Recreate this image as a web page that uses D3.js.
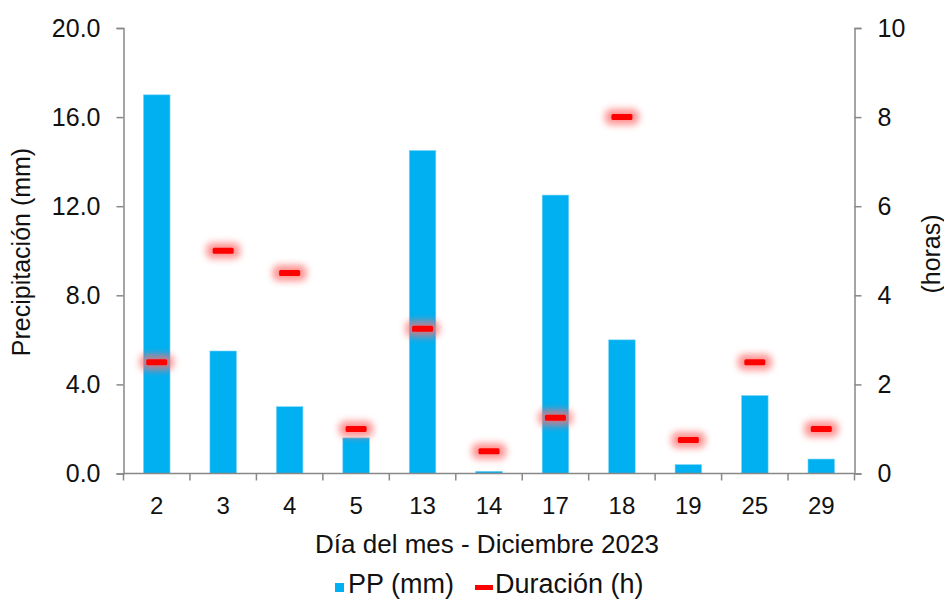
<!DOCTYPE html>
<html><head><meta charset="utf-8">
<script src="https://cdn.jsdelivr.net/npm/d3@7"></script>
<style>
html,body{margin:0;padding:0;background:#fff;}
text{font-family:"Liberation Sans",Arial,sans-serif;fill:#111;}
</style></head>
<body><svg id="c" width="944" height="601"></svg>
<script>
const days = ["2","3","4","5","13","14","17","18","19","25","29"];
const ppValues = [17.0,5.5,3.0,1.6,14.5,0.1,12.5,6.0,0.4,3.5,0.65];
const durValues = [2.5,5.0,4.5,1.0,3.25,0.5,1.25,8.0,0.75,2.5,1.0];
const leftTicks = [0,4,8,12,16,20];
const rightTicks = [0,2,4,6,8,10];

const svg = d3.select("#c");
const m = {l:123.5, r:854.5, t:28, b:473.5};
const x = d3.scaleBand().domain(days).range([m.l, m.r]).paddingInner(0).paddingOuter(0);
const yL = d3.scaleLinear().domain([0,20]).range([m.b, m.t]);
const yR = d3.scaleLinear().domain([0,10]).range([m.b, m.t]);

const defs = svg.append("defs");
const f = defs.append("filter").attr("id","glow").attr("x","-50%").attr("y","-150%").attr("width","200%").attr("height","400%");
f.append("feGaussianBlur").attr("stdDeviation",3.5);

// bars
svg.append("g").selectAll("rect").data(days).join("rect")
  .attr("x", d => x(d) + x.bandwidth()*0.3)
  .attr("width", x.bandwidth()*0.4)
  .attr("y", (d,i) => yL(ppValues[i]))
  .attr("height", (d,i) => yL(0) - yL(ppValues[i]))
  .attr("fill", "#00B0F0")
  .attr("stroke", "#7fd6f7").attr("stroke-width", 0.6);

// duration markers
const mk = svg.append("g");
mk.selectAll("rect.g").data(days).join("rect").attr("class","g")
  .attr("x", d => x(d) + x.bandwidth()/2 - 17)
  .attr("y", (d,i) => yR(durValues[i]) - 8)
  .attr("width", 34).attr("height", 16).attr("rx", 6)
  .attr("fill", "#ff7070").attr("opacity", 0.75).attr("filter","url(#glow)");
mk.selectAll("rect.m").data(days).join("rect").attr("class","m")
  .attr("x", d => x(d) + x.bandwidth()/2 - 10.5)
  .attr("y", (d,i) => yR(durValues[i]) - 3)
  .attr("width", 21).attr("height", 6).attr("rx", 1.5)
  .attr("fill", "#ff0000");

const axisColor = "#888";
function styleAxis(g){
  g.select(".domain").attr("stroke", axisColor).attr("stroke-width", 1.5);
  g.selectAll(".tick line").attr("stroke", axisColor).attr("stroke-width", 1.5);
  g.selectAll(".tick text").attr("font-size", 25).attr("fill","#111").style("font-family","'Liberation Sans',Arial,sans-serif");
}
const gl = svg.append("g").attr("transform", `translate(${m.l},0)`)
  .call(d3.axisLeft(yL).tickValues(leftTicks).tickFormat(d3.format(".1f")).tickSizeOuter(7).tickSize(7).tickPadding(16));
styleAxis(gl);
const gr = svg.append("g").attr("transform", `translate(${m.r},0)`)
  .call(d3.axisRight(yR).tickValues(rightTicks).tickFormat(d3.format("d")).tickSizeOuter(7).tickSize(7).tickPadding(16));
styleAxis(gr);
const gx = svg.append("g").attr("transform", `translate(0,${m.b})`)
  .call(d3.axisBottom(x).tickSize(0).tickPadding(23));
styleAxis(gx);
gx.selectAll(".tick text").attr("font-size", 24);
gx.select(".domain").attr("d", `M${m.l},0H${m.r}`);
// boundary ticks
const bounds = days.map(d => x(d)).concat([m.r]);
gx.selectAll("line.b").data(bounds).join("line").attr("class","b")
  .attr("x1", d => d).attr("x2", d => d).attr("y1", 0).attr("y2", 7)
  .attr("stroke", axisColor).attr("stroke-width", 1.5);

// titles
svg.append("text").attr("transform", `translate(30,252) rotate(-90)`)
  .attr("text-anchor","middle").attr("font-size", 25).text("Precipitación (mm)");
svg.append("text").attr("transform", `translate(940,254) rotate(-90)`)
  .attr("text-anchor","middle").attr("font-size", 25).text("(horas)");
svg.append("text").attr("x", 487).attr("y", 553)
  .attr("text-anchor","middle").attr("font-size", 26).text("Día del mes - Diciembre 2023");

// legend
const lg = svg.append("g");
lg.append("rect").attr("x", 335).attr("y", 583).attr("width", 9).attr("height", 9).attr("fill","#00B0F0");
lg.append("text").attr("x", 348).attr("y", 593).attr("font-size", 27).text("PP (mm)");
lg.append("rect").attr("x", 475).attr("y", 585).attr("width", 18).attr("height", 5).attr("fill","#ff0000");
lg.append("text").attr("x", 495).attr("y", 593).attr("font-size", 27).text("Duración (h)");
</script></body></html>
